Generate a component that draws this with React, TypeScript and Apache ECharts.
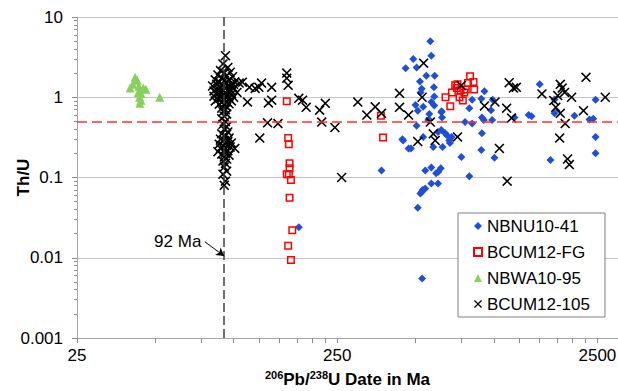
import React, { useEffect, useRef } from "react";
import * as echarts from "echarts";

const FONT = '"Liberation Sans", Arial, Helvetica, sans-serif';

// ---- data (x = 206Pb/238U date in Ma, y = Th/U) ----
const seriesNames = ["NBNU10-41", "BCUM12-FG", "NBWA10-95", "BCUM12-105"];

const nbnu1041: [number, number][] = [
  [570, 5.0], [575, 3.3], [490, 3.0], [458, 2.3], [505, 2.35], [550, 1.85], [592, 1.85], [520, 1.57],
  [528, 1.28], [588, 1.33], [523, 1.15], [500, 0.8], [535, 0.76], [510, 0.68], [590, 0.79], [628, 0.65],
  [565, 0.62], [632, 0.56], [505, 0.44], [560, 0.52], [448, 0.29], [470, 0.23], [480, 0.23], [535, 0.32],
  [585, 0.24], [635, 0.24], [610, 0.37], [650, 0.355], [628, 0.39], [660, 0.335], [678, 0.27], [688, 0.32],
  [674, 0.29], [775, 0.49], [805, 0.73], [825, 0.93], [895, 0.96], [920, 1.19], [990, 0.93], [975, 0.69],
  [985, 0.52], [915, 0.52], [900, 0.56], [825, 0.47], [895, 0.22], [750, 0.18], [1005, 0.176], [805, 0.104],
  [370, 0.122], [545, 0.122], [575, 0.133], [600, 0.113], [625, 0.13], [612, 0.118], [575, 0.084], [610, 0.084],
  [532, 0.07], [522, 0.063], [528, 0.066], [510, 0.042], [530, 0.0055], [178, 0.024], [900, 0.355], [1200, 0.56],
  [1360, 0.6], [1395, 0.58], [1500, 1.45], [1710, 0.94], [1710, 0.63], [2040, 0.59], [1650, 0.165], [2410, 0.54],
  [2460, 0.93], [2460, 0.32], [2460, 0.2], [2330, 0.53], [590, 1.02], [545, 0.073], [575, 0.87], [630, 0.67],
  [565, 0.52], [445, 0.3],
];

const bcum12fg: [number, number][] = [
  [160, 0.89], [162, 0.31], [163, 0.26], [164, 0.15], [164, 0.13], [160, 0.11], [163, 0.11], [166, 0.093],
  [164, 0.056], [168, 0.022], [162, 0.0141], [166, 0.0094],
  [368, 0.59], [375, 0.315],
  [652, 1.0], [680, 0.77], [690, 1.15], [710, 1.41], [725, 1.45], [738, 1.0], [760, 0.91], [745, 1.22],
  [780, 1.25], [795, 1.5], [810, 1.83], [835, 1.55], [840, 1.25], [770, 1.15], [720, 1.3],
];

const nbwa1095: [number, number][] = [
  [41.8, 1.78], [42.6, 1.63], [41, 1.45], [40, 1.3], [43.2, 1.37], [44.9, 1.3], [46, 1.26], [43, 1.15],
  [44, 1.12], [43.5, 1.0], [43.6, 0.84], [44, 0.92], [52, 1.0],
];

const bcum12105: [number, number][] = [
  // 92 Ma cluster
  [93, 3.3], [91, 2.6], [95, 2.35], [89, 2.15], [97, 2.05], [92, 2.0], [87, 1.9], [94, 1.85], [99, 1.8],
  [90, 1.75], [85, 1.65], [96, 1.65], [92, 1.6], [101, 1.55], [88, 1.55], [94, 1.5], [98, 1.45], [86, 1.45],
  [91, 1.42], [83, 1.38], [95, 1.38], [89, 1.33], [93, 1.3], [100, 1.3], [87, 1.27], [97, 1.25], [91, 1.22],
  [84, 1.2], [95, 1.2], [89, 1.17], [93, 1.15], [103, 1.15], [86, 1.12], [98, 1.1], [91, 1.08], [95, 1.06],
  [88, 1.05], [84, 1.03], [93, 1.02], [100, 1.0], [90, 0.98], [96, 0.97], [87, 0.95], [92, 0.93], [98, 0.9],
  [85, 0.9], [94, 0.88], [90, 0.86], [96, 0.83], [88, 0.82], [92, 0.8], [94, 0.76], [90, 0.73], [93, 0.7],
  [91, 0.66], [94, 0.62], [92, 0.58], [90, 0.54], [93, 0.5], [91, 0.46], [94, 0.43], [92, 0.4], [95, 0.37],
  [90, 0.35], [93, 0.33], [96, 0.31], [89, 0.3], [92, 0.29], [95, 0.28], [98, 0.27], [88, 0.26], [91, 0.25],
  [94, 0.25], [97, 0.24], [101, 0.23], [89, 0.23], [92, 0.22], [95, 0.215], [87, 0.21], [93, 0.2], [90, 0.195],
  [96, 0.19], [92, 0.18], [94, 0.17], [91, 0.16], [93, 0.15], [92, 0.135], [94, 0.12], [91, 0.11], [93, 0.09],
  [92, 0.08], [105, 1.5], [100, 1.45],
  // older grains
  [108, 1.54], [115, 1.33], [121, 1.29], [128, 1.5], [125, 1.33], [140, 1.33], [113, 0.87], [136, 0.85],
  [140, 0.92], [160, 2.0], [160, 1.73], [162, 1.41], [178, 0.97], [184, 0.92], [190, 0.75], [126, 0.31],
  [135, 0.48], [148, 0.47], [225, 0.84], [214, 0.69], [218, 0.49], [245, 0.42], [260, 0.1], [300, 0.87],
  [325, 0.6], [350, 0.76], [370, 0.63], [434, 1.12], [434, 0.75], [470, 0.6], [537, 2.66], [530, 1.0],
  [570, 0.49], [585, 0.35], [595, 0.29], [510, 0.28], [725, 0.32], [750, 1.4], [920, 0.78], [1010, 0.87],
  [1120, 0.73], [1170, 0.55], [1050, 0.23], [1125, 0.09], [1145, 1.52], [1190, 1.3], [1220, 1.33], [1530, 1.1],
  [1700, 0.91], [1800, 1.45], [1830, 1.3], [1870, 1.15], [1990, 1.0], [1730, 0.75], [1800, 0.63], [1880, 0.47],
  [1790, 0.31], [1920, 0.17], [1950, 0.145], [2210, 0.68], [2260, 1.77], [2680, 1.0], [1760, 1.05],
];

const xLabelValues = [25, 250, 2500];
const xTickValues = [25, 50, 75, 100, 125, 150, 175, 200, 225, 250, 500, 750, 1000, 1250, 1500, 1750, 2000, 2250, 2500];
const yMinorTickValues = [
  0.002, 0.003, 0.004, 0.005, 0.006, 0.007, 0.008, 0.009,
  0.02, 0.03, 0.04, 0.05, 0.06, 0.07, 0.08, 0.09,
  0.2, 0.3, 0.4, 0.5, 0.6, 0.7, 0.8, 0.9,
  2, 3, 4, 5, 6, 7, 8, 9,
];
const thuThreshold = 0.5;
const markerAge = 92;
const arrowFrom: [number, number] = [77.5, 0.0158];
const arrowTo: [number, number] = [92, 0.0105];

const CROSS = "path://M1.1,0L5,3.9L8.9,0L10,1.1L6.1,5L10,8.9L8.9,10L5,6.1L1.1,10L0,8.9L3.9,5L0,1.1Z";
const AXIS_GRAY = "#a6a6a6";
const TICK_GRAY = "#8c8c8c";

function fmtY(v: number): string {
  if (v >= 1) return String(Math.round(v));
  return String(Number(v.toPrecision(1)));
}

export default function App() {
  const ref = useRef<HTMLDivElement>(null);
  useEffect(() => {
    if (!ref.current) return;
    const chart = echarts.init(ref.current, undefined, { renderer: "svg" });
    const option: any = {
      animation: false,
      textStyle: { fontFamily: FONT },
      grid: { left: 77, top: 17, width: 541, height: 321, containLabel: false, outerBoundsMode: "none" },
      xAxis: {
        type: "log",
        logBase: 10,
        min: 25,
        max: 3000,
        name: "{sup|206}{main|Pb/}{sup|238}{main|U Date in Ma}",
        nameLocation: "middle",
        nameGap: 31,
        nameMoveOverlap: false,
        nameTextStyle: {
          fontFamily: FONT,
          fontSize: 17,
          fontWeight: "bold",
          color: "#000",
          rich: {
            main: { fontFamily: FONT, fontSize: 17, fontWeight: "bold", color: "#000", lineHeight: 20 },
            sup: { fontFamily: FONT, fontSize: 11, fontWeight: "bold", color: "#000", lineHeight: 14, verticalAlign: "top" },
          },
        },
        axisLine: { show: true, lineStyle: { color: AXIS_GRAY, width: 1 } },
        axisTick: { show: true, length: 5, customValues: xTickValues, lineStyle: { color: TICK_GRAY, width: 1 } },
        axisLabel: {
          customValues: xLabelValues,
          formatter: (v: number) => String(Math.round(v)),
          fontSize: 17,
          color: "#000",
          fontFamily: FONT,
          margin: 9,
        },
        splitLine: { show: false },
      },
      yAxis: [
        {
          type: "log",
          logBase: 10,
          min: 0.001,
          max: 10,
          position: "left",
          name: "Th/U",
          nameLocation: "middle",
          nameGap: 45,
          nameMoveOverlap: false,
          nameTextStyle: { fontFamily: FONT, fontSize: 17, fontWeight: "bold", color: "#000" },
          axisLine: { show: true, lineStyle: { color: AXIS_GRAY, width: 1 } },
          axisTick: { show: true, length: 5, lineStyle: { color: TICK_GRAY, width: 1 } },
          axisLabel: { formatter: fmtY, fontSize: 17, color: "#000", fontFamily: FONT, margin: 14 },
          splitLine: { show: true, lineStyle: { color: "#c4c4c4", width: 1 } },
        },
        {
          type: "log",
          logBase: 10,
          min: 0.001,
          max: 10,
          position: "left",
          axisLine: { show: false },
          axisTick: { show: true, length: 3, customValues: yMinorTickValues, lineStyle: { color: TICK_GRAY, width: 1 } },
          axisLabel: { show: false },
          splitLine: { show: false },
        },
      ],
      legend: {
        data: seriesNames,
        orient: "vertical",
        left: 458,
        top: 213,
        padding: [4.5, 15, 4.5, 15],
        itemGap: 9,
        itemWidth: 8,
        itemHeight: 8,
        backgroundColor: "#fff",
        borderColor: "#808080",
        borderWidth: 1,
        selectedMode: false,
        textStyle: { fontFamily: FONT, fontSize: 17, color: "#000" },
      },
      series: [
        {
          name: "refLines",
          type: "scatter",
          data: [],
          silent: true,
          markLine: {
            silent: true,
            symbol: "none",
            label: { show: false },
            animation: false,
            data: [
              { yAxis: thuThreshold, lineStyle: { color: "#ff3030", type: [10, 5], width: 1.5 } },
              { xAxis: markerAge, lineStyle: { color: "#404040", type: [9, 4], width: 1.5 } },
            ],
          },
        },
        {
          name: "annotation",
          type: "scatter",
          data: [],
          silent: true,
          markLine: {
            silent: true,
            symbol: ["none", "arrow"],
            symbolSize: [7, 8],
            label: { show: false },
            lineStyle: { color: "#000", type: "solid", width: 1 },
            data: [[{ coord: arrowFrom }, { coord: arrowTo }]],
          },
          markPoint: {
            silent: true,
            symbol: "circle",
            symbolSize: 1,
            itemStyle: { color: "rgba(0,0,0,0)" },
            label: { show: true, position: "left", distance: 3, formatter: "92 Ma", fontSize: 17, color: "#000", fontFamily: FONT },
            data: [{ coord: arrowFrom }],
          },
        },
        {
          name: seriesNames[0],
          type: "scatter",
          data: nbnu1041,
          symbol: "diamond",
          symbolSize: 8,
          itemStyle: { color: "#1f4fd6", opacity: 1 },
        },
        {
          name: seriesNames[1],
          type: "scatter",
          data: bcum12fg,
          symbol: "rect",
          symbolSize: 6.5,
          itemStyle: { color: "rgba(255,255,255,0)", borderColor: "#ff0000", borderWidth: 1.5, opacity: 1 },
        },
        {
          name: seriesNames[2],
          type: "scatter",
          data: nbwa1095,
          symbol: "triangle",
          symbolSize: 9,
          itemStyle: { color: "#86d05c", opacity: 1 },
        },
        {
          name: seriesNames[3],
          type: "scatter",
          data: bcum12105,
          symbol: CROSS,
          symbolSize: 10,
          itemStyle: { color: "#000", opacity: 1 },
        },
      ],
    };
    chart.setOption(option);
    return () => chart.dispose();
  }, []);
  return <div ref={ref} style={{ position: "absolute", left: 0, top: 0, width: 618, height: 391 }} />;
}
